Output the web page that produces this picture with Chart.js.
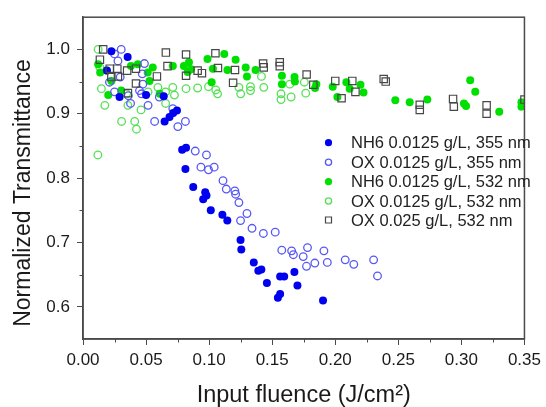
<!DOCTYPE html>
<html>
<head>
<meta charset="utf-8">
<script src="https://cdn.jsdelivr.net/npm/chart.js@4"></script>
<style>
  html, body { margin: 0; padding: 0; background: #fff; }
  #wrap { width: 546px; height: 407px; }
</style>
</head>
<body>
<div id="wrap"><canvas id="chart" width="546" height="407"></canvas></div>
<script>
// Data: [fluence J/cm2, normalized transmittance]
const nh6_355 = [
    [0.0225, 0.997], [0.0354, 0.988], [0.019, 0.967], [0.029, 0.926], [0.050, 0.929],
    [0.064, 0.927], [0.0647, 0.888], [0.0686, 0.895], [0.0715, 0.901], [0.0745, 0.905],
    [0.0786, 0.844], [0.0817, 0.847], [0.0812, 0.814], [0.0874, 0.786], [0.0953, 0.767],
    [0.0969, 0.778], [0.0979, 0.773], [0.1013, 0.750], [0.1105, 0.743], [0.1144, 0.734],
    [0.1249, 0.704], [0.1255, 0.689], [0.1354, 0.669], [0.139, 0.656], [0.1414, 0.658],
    [0.1458, 0.637], [0.1563, 0.647], [0.1595, 0.647], [0.1676, 0.654], [0.170, 0.633],
    [0.1545, 0.614], [0.1563, 0.620], [0.1903, 0.610]
];
const ox_355 = [
    [0.0303, 1.000], [0.025, 0.993], [0.0277, 0.982], [0.0295, 0.957], [0.021, 0.949],
    [0.025, 0.934], [0.0377, 0.916], [0.0487, 0.978], [0.047, 0.962], [0.0474, 0.946],
    [0.0448, 0.936], [0.0464, 0.931], [0.0359, 0.928], [0.0516, 0.913], [0.0568, 0.888],
    [0.0605, 0.926], [0.0712, 0.908], [0.0752, 0.880], [0.0812, 0.888], [0.089, 0.842],
    [0.0979, 0.836], [0.0935, 0.817], [0.0995, 0.813], [0.104, 0.817], [0.111, 0.796],
    [0.1136, 0.783], [0.1204, 0.780], [0.121, 0.775], [0.1236, 0.762], [0.130, 0.745],
    [0.1249, 0.734], [0.134, 0.722], [0.143, 0.714], [0.1524, 0.716], [0.1576, 0.688],
    [0.1654, 0.687], [0.1668, 0.681], [0.178, 0.692], [0.1746, 0.678], [0.1772, 0.663],
    [0.1838, 0.668], [0.191, 0.687], [0.1937, 0.669], [0.2079, 0.673], [0.2147, 0.666],
    [0.2304, 0.673], [0.2335, 0.648]
];
const nh6_532 = [
    [0.012, 0.977], [0.0136, 0.964], [0.0186, 0.967], [0.0225, 0.951], [0.020, 0.929],
    [0.0303, 0.936], [0.038, 0.974], [0.0435, 0.977], [0.0513, 0.964], [0.0527, 0.951],
    [0.0553, 0.972], [0.0608, 0.931], [0.0712, 0.974], [0.080, 0.974], [0.084, 0.980],
    [0.0857, 0.969], [0.083, 0.965], [0.0987, 0.985], [0.102, 0.949], [0.103, 0.970],
    [0.112, 0.993], [0.1145, 0.968], [0.121, 0.984], [0.129, 0.972], [0.130, 0.958],
    [0.1368, 0.968], [0.1577, 0.959], [0.1577, 0.946], [0.1677, 0.957], [0.168, 0.950],
    [0.185, 0.946], [0.184, 0.940], [0.198, 0.942], [0.2017, 0.926], [0.2088, 0.949],
    [0.2114, 0.939], [0.220, 0.945], [0.2224, 0.933], [0.2476, 0.921], [0.259, 0.918],
    [0.273, 0.922], [0.302, 0.916], [0.3037, 0.912], [0.307, 0.952], [0.311, 0.934],
    [0.330, 0.903], [0.3476, 0.918], [0.3476, 0.911]
];
const ox_532 = [
    [0.012, 1.000], [0.0134, 0.972], [0.0146, 0.939], [0.0173, 0.913], [0.0118, 0.836],
    [0.0346, 0.931], [0.0356, 0.913], [0.046, 0.906], [0.0306, 0.888], [0.041, 0.888],
    [0.0424, 0.876], [0.0516, 0.934], [0.0594, 0.941], [0.0655, 0.934], [0.0655, 0.916],
    [0.0712, 0.941], [0.0725, 0.929], [0.0817, 0.939], [0.0909, 0.940], [0.0995, 0.942],
    [0.1053, 0.937], [0.1067, 0.931], [0.1236, 0.941], [0.125, 0.931], [0.1328, 0.942],
    [0.1328, 0.936], [0.1415, 0.958], [0.1433, 0.941], [0.157, 0.931], [0.157, 0.922],
    [0.165, 0.926], [0.164, 0.946], [0.1766, 0.932], [0.1755, 0.949]
];
const ox025_532 = [
    [0.016, 1.000], [0.0134, 0.984], [0.0212, 0.970], [0.0272, 0.970], [0.0225, 0.957],
    [0.0277, 0.958], [0.035, 0.967], [0.042, 0.970], [0.042, 0.947], [0.0356, 0.932],
    [0.0586, 0.958], [0.0657, 0.995], [0.067, 0.974], [0.0817, 0.992], [0.0817, 0.959],
    [0.0909, 0.967], [0.0943, 0.963], [0.105, 0.994], [0.107, 0.971], [0.1205, 0.968],
    [0.119, 0.948], [0.1428, 0.978], [0.1433, 0.972], [0.156, 0.980], [0.156, 0.974],
    [0.1773, 0.961], [0.1826, 0.945], [0.200, 0.951], [0.205, 0.924], [0.2135, 0.951],
    [0.216, 0.934], [0.2384, 0.954], [0.240, 0.950], [0.267, 0.914], [0.267, 0.906],
    [0.2934, 0.923], [0.294, 0.911], [0.320, 0.913], [0.320, 0.900], [0.350, 0.922]
];

const seriesLabels = [
    'NH6 0.0125 g/L, 355 nm',
    'OX 0.0125 g/L, 355 nm',
    'NH6 0.0125 g/L, 532 nm',
    'OX 0.0125 g/L, 532 nm',
    'OX 0.025 g/L, 532 nm'
];
const xTicks = [0, 0.05, 0.10, 0.15, 0.20, 0.25, 0.30, 0.35];
const yTicks = [0.6, 0.7, 0.8, 0.9, 1.0];
const xMinorTicks = [0.025, 0.075, 0.125, 0.175, 0.225, 0.275, 0.325];
const yMinorTicks = [0.65, 0.75, 0.85, 0.95];
const yTitle = 'Normalized Transmittance';
const xTitle = 'Input fluence (J/cm²)';

const FONT = "'Liberation Sans', Arial, sans-serif";
const AXIS = '#4a4a4a';
const TEXT = '#1a1a1a';

function toPoints(arr) {
    return arr.map(p => ({ x: p[0], y: p[1] }));
}

// Frame, minor ticks, y title (sits lower than centre) and the in-plot legend
const decorPlugin = {
    id: 'decor',
    afterDatasetsDraw(chart) {
        const ctx = chart.ctx;
        const area = chart.chartArea;
        const xs = chart.scales.x;
        const ys = chart.scales.y;
        ctx.save();
        ctx.strokeStyle = AXIS;
        ctx.lineWidth = 1.5;
        ctx.strokeRect(area.left, area.top, area.right - area.left, area.bottom - area.top);

        ctx.lineWidth = 1;
        ctx.beginPath();
        xMinorTicks.forEach(v => {
            const px = Math.round(xs.getPixelForValue(v)) + 0.5;
            ctx.moveTo(px, area.bottom);
            ctx.lineTo(px, area.bottom + 3.5);
        });
        yMinorTicks.forEach(v => {
            const py = Math.round(ys.getPixelForValue(v)) + 0.5;
            ctx.moveTo(area.left, py);
            ctx.lineTo(area.left - 3.5, py);
        });
        ctx.stroke();

        // y axis title
        ctx.save();
        ctx.translate(24, 193);
        ctx.rotate(-Math.PI / 2);
        ctx.font = '23px ' + FONT;
        ctx.fillStyle = TEXT;
        ctx.textAlign = 'center';
        ctx.textBaseline = 'middle';
        ctx.fillText(yTitle, 0, 0);
        ctx.restore();

        // legend
        const rows = [142.7, 162.3, 181.7, 201, 220];
        const mx = 328.5;
        const tx = 351;
        ctx.font = '16.5px ' + FONT;
        ctx.textBaseline = 'middle';
        ctx.fillStyle = '#222';
        chart.data.datasets.slice().sort((a, b) => a.legendIndex - b.legendIndex).forEach((ds, i) => {
            const y = rows[i];
            ctx.save();
            ctx.lineWidth = ds.borderWidth;
            ctx.strokeStyle = ds.borderColor;
            ctx.fillStyle = ds.backgroundColor;
            ctx.beginPath();
            if (ds.pointStyle === 'rect') {
                ctx.rect(mx - 3, y - 3, 6, 6);
            } else {
                ctx.arc(mx, y, ds.filled ? 3.6 : 3.1, 0, Math.PI * 2);
            }
            ctx.fill();
            if (!ds.filled) ctx.stroke();
            ctx.restore();
            ctx.fillText(ds.label, tx, y + 1);
        });
        ctx.restore();
    }
};

function initializeChart() {
    const ctx = document.getElementById('chart').getContext('2d');
    new Chart(ctx, {
        type: 'scatter',
        data: {
            datasets: [
                {
                    label: seriesLabels[4], legendIndex: 4, data: toPoints(ox025_532),
                    pointStyle: 'rect', pointRadius: 5.2, borderWidth: 1.2,
                    borderColor: '#474747', backgroundColor: 'rgba(255,255,255,0)', filled: false
                },
                {
                    label: seriesLabels[0], legendIndex: 0, data: toPoints(nh6_355),
                    pointStyle: 'circle', pointRadius: 4, borderWidth: 0,
                    borderColor: '#0000f0', backgroundColor: '#0000f0', filled: true
                },
                {
                    label: seriesLabels[1], legendIndex: 1, data: toPoints(ox_355),
                    pointStyle: 'circle', pointRadius: 3.8, borderWidth: 1.3,
                    borderColor: '#5858f5', backgroundColor: 'rgba(255,255,255,0)', filled: false
                },
                {
                    label: seriesLabels[2], legendIndex: 2, data: toPoints(nh6_532),
                    pointStyle: 'circle', pointRadius: 4, borderWidth: 0,
                    borderColor: '#00e000', backgroundColor: '#00e000', filled: true
                },
                {
                    label: seriesLabels[3], legendIndex: 3, data: toPoints(ox_532),
                    pointStyle: 'circle', pointRadius: 3.8, borderWidth: 1.3,
                    borderColor: '#55e055', backgroundColor: 'rgba(255,255,255,0)', filled: false
                }
            ]
        },
        options: {
            responsive: false,
            animation: false,
            layout: { padding: { top: 13, right: 18, left: 0, bottom: 0 } },
            plugins: {
                legend: { display: false },
                tooltip: { enabled: false }
            },
            scales: {
                x: {
                    type: 'linear',
                    min: 0,
                    max: 0.35,
                    afterBuildTicks(scale) { scale.ticks = xTicks.map(v => ({ value: v })); },
                    afterFit(scale) { scale.height = 68; },
                    border: { display: true, color: AXIS, width: 1.5 },
                    grid: { drawOnChartArea: false, tickLength: 6, color: AXIS, tickWidth: 1 },
                    ticks: {
                        padding: 5,
                        color: TEXT,
                        font: { family: FONT, size: 17 },
                        callback: v => v.toFixed(2)
                    },
                    title: {
                        display: true,
                        text: xTitle,
                        color: TEXT,
                        font: { family: FONT, size: 23.5, lineHeight: 1 },
                        padding: { top: 0, bottom: 0 }
                    }
                },
                y: {
                    type: 'linear',
                    min: 0.55,
                    max: 1.05,
                    afterBuildTicks(scale) { scale.ticks = yTicks.map(v => ({ value: v })); },
                    afterFit(scale) { scale.width = 83; },
                    border: { display: true, color: AXIS, width: 1.5 },
                    grid: { drawOnChartArea: false, tickLength: 6, color: AXIS, tickWidth: 1 },
                    ticks: {
                        padding: 7,
                        color: TEXT,
                        font: { family: FONT, size: 17 },
                        callback: v => v.toFixed(1)
                    },
                    title: { display: false }
                }
            }
        },
        plugins: [decorPlugin]
    });
}

initializeChart();
</script>
</body>
</html>
